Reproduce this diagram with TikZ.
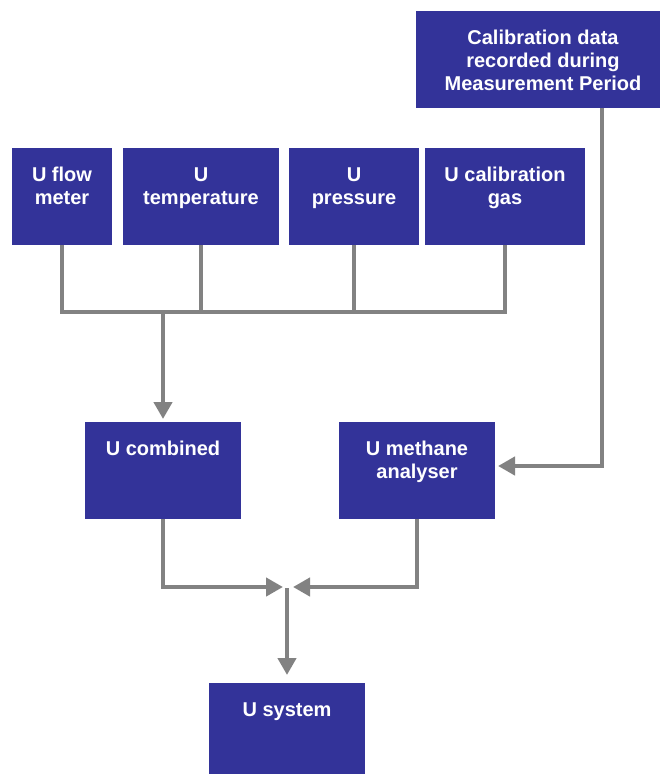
\documentclass[tikz,border=0pt]{standalone}
\usepackage{fontspec}
\setmainfont{Liberation Sans}
\usetikzlibrary{arrows.meta,calc}
\definecolor{boxblue}{RGB}{51,51,153}
\definecolor{linegray}{RGB}{130,130,130}
\begin{document}
\begin{tikzpicture}[x=1pt,y=-1pt,
  box/.style={fill=boxblue, draw=none, inner sep=0pt, outer sep=0pt, anchor=north west, text=white,
    font=\fontsize{20}{23}\selectfont\bfseries},
  conn/.style={draw=linegray, line width=4.5pt, line join=miter},
  arr/.style={conn, -{Triangle[length=17pt,width=18pt]}}]
\useasboundingbox (0,0) rectangle (660,774);
\newcommand{\boxtext}[3]{\parbox[t][#1pt][t]{#2pt}{\centering\rule{0pt}{33pt}#3}}
% boxes
\node[box] (cal)  at (416,11)  {\boxtext{97}{254}{Calibration data\\recorded during\\Measurement Period}};
\node[box] (flow) at (12,148)  {\boxtext{97}{100}{U flow\\meter}};
\node[box] (temp) at (123,148) {\boxtext{97}{156}{U\\temperature}};
\node[box] (pres) at (289,148) {\boxtext{97}{130}{U\\pressure}};
\node[box] (gas)  at (425,148) {\boxtext{97}{160}{U calibration\\gas}};
\node[box] (comb) at (85,422)  {\boxtext{97}{156}{U combined}};
\node[box] (meth) at (339,422) {\boxtext{97}{156}{U methane\\analyser}};
\node[box] (sys)  at (209,683) {\boxtext{97}{156}{U system}};
% coordinates
\coordinate (busL) at (flow.south |- 0,312);
\coordinate (busR) at (gas.south |- 0,312);
\coordinate (calturn) at (602,466);
\coordinate (merge) at (287,587);
% bus
\draw[conn] (flow.south) -- (busL) -- (busR) -- (gas.south);
\draw[conn] (temp.south) -- (temp.south |- busL);
\draw[conn] (pres.south) -- (pres.south |- busL);
\draw[arr, shorten >=3pt] (comb.north |- busL) -- (comb.north);
% calibration
\draw[arr, shorten >=3pt] (cal.south -| calturn) -- (calturn) -- (meth.east |- calturn);
% merge
\draw[arr] (comb.south) |- ($(merge)+(-4,0)$);
\draw[arr] (meth.south) |- ($(merge)+(6,0)$);
\draw[arr, shorten >=8pt] ($(merge)+(0,1)$) -- (sys.north);
\end{tikzpicture}
\end{document}
